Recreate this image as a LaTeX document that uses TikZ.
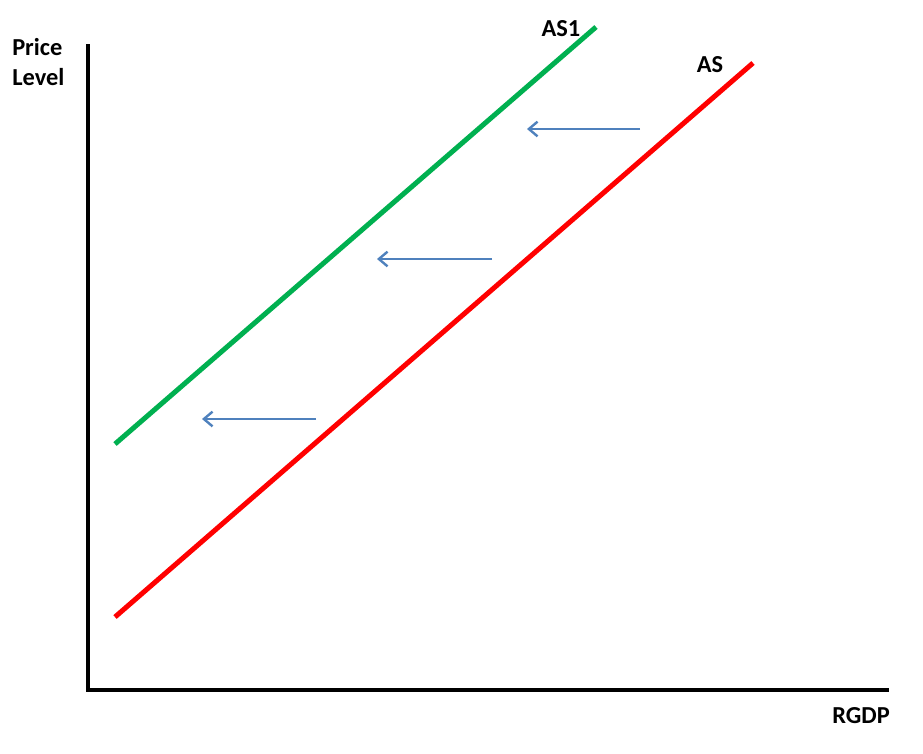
\documentclass[tikz,border=0pt]{standalone}
\usepackage{fontspec}
\setmainfont{Carlito}
\usetikzlibrary{arrows.meta}
\definecolor{asgreen}{RGB}{0,176,80}
\definecolor{asred}{RGB}{255,0,0}
\definecolor{arrblue}{RGB}{79,129,189}
\tikzset{
  axis/.style={line width=4.8pt*0.75, black},
  curve/.style={line width=5pt*0.75},
  shift arrow/.style={arrblue, line width=2.8pt*0.75, -{Straight Barb[length=6.5pt,width=11pt,line width=1.8pt]}},
  lbl/.style={font=\bfseries\fontsize{18.3}{22.5}\selectfont, inner sep=0pt, align=left}
}
\begin{document}
\begin{tikzpicture}[x=0.75pt,y=-0.75pt]
\useasboundingbox (0,0) rectangle (923,753);
% axes
\coordinate (ytop) at (88,44);
\coordinate (origin) at (88,690);
\coordinate (xend) at (889,690);
\draw[axis] (ytop) -- (origin) -- (xend);
% curves
\coordinate (g1) at (115,444);
\coordinate (g2) at (596,27);
\coordinate (r1) at (115,617);
\coordinate (r2) at (753,63);
\draw[curve, asgreen] (g1) -- (g2);
\draw[curve, asred] (r1) -- (r2);
% arrows
\coordinate (a1s) at (640,129); \coordinate (a1e) at (527,129);
\coordinate (a2s) at (492,259); \coordinate (a2e) at (377,259);
\coordinate (a3s) at (316,419); \coordinate (a3e) at (202,419);
\draw[shift arrow] (a1s) -- (a1e);
\draw[shift arrow] (a2s) -- (a2e);
\draw[shift arrow] (a3s) -- (a3e);
% labels
\node[lbl, anchor=north west] (pl) at (12,38) {Price\\Level};
\node[lbl] (as1) at (561,29) {AS1};
\node[lbl] (as) at (710,65) {AS};
\node[lbl] (rgdp) at (861,716) {RGDP};
\end{tikzpicture}
\end{document}
